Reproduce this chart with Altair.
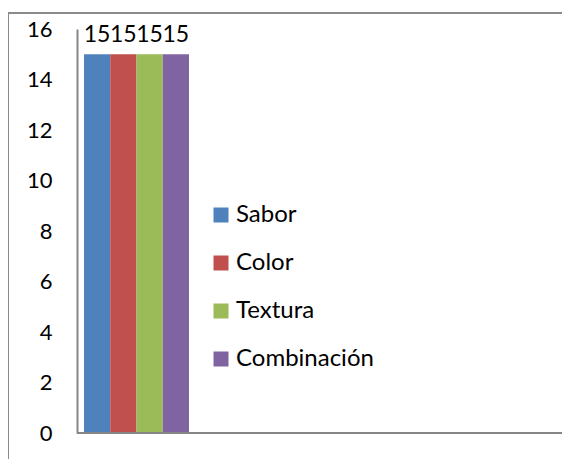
import altair as alt
import pandas as pd

series = ["Sabor", "Color", "Textura", "Combinación"]
values = [15, 15, 15, 15]
colors = ["#4F81BD", "#C0504D", "#9BBB59", "#8064A2"]
y_ticks = [0, 2, 4, 6, 8, 10, 12, 14, 16]

df = pd.DataFrame({"serie": series, "valor": values})

W, H = 485, 404
FONT = "Lato"

xenc = alt.X("serie:N", sort=series,
             scale=alt.Scale(domain=series, range=[7, 112], paddingInner=0, paddingOuter=0),
             axis=None)
yenc = alt.Y("valor:Q", scale=alt.Scale(domain=[0, 16], nice=False),
             axis=alt.Axis(values=y_ticks, grid=False, ticks=False, domainColor="#868686",
                           domainWidth=2, labelFont=FONT, labelFontSize=22, labelColor="black",
                           labelPadding=25, title=None))

base = alt.Chart(df)

bars = base.mark_bar().encode(
    x=xenc, y=yenc,
    color=alt.Color("serie:N", scale=alt.Scale(domain=series, range=colors),
                    legend=alt.Legend(orient="none", legendX=132, legendY=174, title=None,
                                      symbolType="square", symbolSize=225, symbolStrokeWidth=0,
                                      labelFont=FONT, labelFontSize=24, labelColor="black",
                                      labelOffset=3, rowPadding=24)),
)

labels = base.mark_text(dy=-12, baseline="alphabetic", font=FONT, fontSize=23, color="black").encode(
    x=xenc, y=alt.Y("valor:Q"), text="valor:Q"
)

xaxis = base.mark_rule(color="#868686", strokeWidth=2).encode(
    y=alt.datum(0), x=alt.value(0), x2=alt.value(W)
)

border_left = base.mark_rule(color="#8a8a8a", strokeWidth=2).encode(
    x=alt.value(-69), y=alt.value(-16), y2=alt.value(H + 60)
)
border_top = base.mark_rule(color="#8a8a8a", strokeWidth=2).encode(
    y=alt.value(-16), x=alt.value(-69), x2=alt.value(W + 40)
)

chart = alt.layer(bars, labels, xaxis, border_left, border_top).properties(
    width=W, height=H,
    autosize=alt.AutoSizeParams(type="none"),
    padding={"left": 69, "top": 21, "right": 0, "bottom": 26},
).configure_view(stroke=None)

chart.save("out.html", embed_options={"renderer": "svg", "actions": False})
